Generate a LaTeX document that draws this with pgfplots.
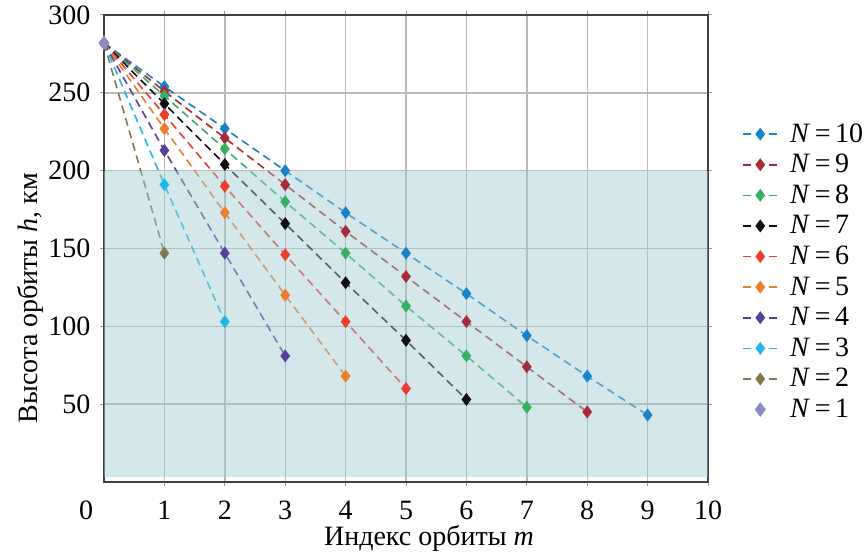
\documentclass[border=0pt]{standalone}
\usepackage{pgfplots}
\pgfplotsset{compat=1.18}
\usepackage{fontspec}
\setmainfont{LiberationSerif}[Extension=.ttf, UprightFont=*-Regular,
    ItalicFont=*-Italic, BoldFont=*-Bold, BoldItalicFont=*-BoldItalic]

\definecolor{cA}{RGB}{25,130,200}   % N=10
\definecolor{cB}{RGB}{165,45,55}    % N=9
\definecolor{cC}{RGB}{55,175,100}   % N=8
\definecolor{cD}{RGB}{15,15,25}     % N=7
\definecolor{cE}{RGB}{235,60,45}    % N=6
\definecolor{cF}{RGB}{235,125,45}   % N=5
\definecolor{cG}{RGB}{85,65,155}    % N=4
\definecolor{cH}{RGB}{30,185,230}   % N=3
\definecolor{cI}{RGB}{130,120,80}   % N=2
\definecolor{cJ}{RGB}{140,140,195}  % N=1
\definecolor{zone}{RGB}{159,202,208}

\begin{document}
\fontsize{14}{17}\selectfont
\begin{tikzpicture}
\begin{axis}[
    name=ax,
    scale only axis,
    width=302pt, height=233.5pt,
    xmin=0, xmax=10, ymin=0, ymax=300,
    xtick={1,...,10}, ytick={50,100,...,300},
    grid=major,
    grid style={line width=0.7pt, black!27},
    axis line style={line width=0.9pt, black!75},
    tick align=outside, major tick length=2pt,
    tick style={black!40, line width=0.5pt},
    /pgf/number format/assume math mode=true,
    ticklabel style={font=\fontsize{14}{17}\selectfont},
    xticklabel style={yshift=-2.5pt},
    xlabel={Индекс орбиты \textit{m}},
    ylabel={Высота орбиты \textit{h}, км},
    xlabel style={at={(axis description cs:0.538,-0.122)}, anchor=center},
    ylabel style={at={(axis description cs:-0.1225,0.394)}, anchor=center, rotate=0},
    legend style={at={(rel axis cs:1,0.45)}, anchor=west, xshift=14pt,
        draw=none, fill=none, row sep=3.3pt, column sep=5pt,
        font=\fontsize{14}{17}\selectfont,
        nodes={inner sep=1pt, text height=9pt, text depth=1pt}},
    legend cell align=left,
    every axis plot/.append style={
        dash pattern=on 4pt off 2.5pt, line width=0.8pt,
        mark=diamond*, mark size=2.6pt, mark options={solid}},
]
\addplot[cA] coordinates {(0,282) (1,254) (2,227) (3,200) (4,173) (5,147) (6,121) (7,94) (8,68) (9,43)};
\addlegendentry{\textit{N}\,=\,10}
\addplot[cB] coordinates {(0,282) (1,251) (2,221) (3,191) (4,161) (5,132) (6,103) (7,74) (8,45)};
\addlegendentry{\textit{N}\,=\,9}
\addplot[cC] coordinates {(0,282) (1,248) (2,214) (3,180) (4,147) (5,113) (6,81) (7,48)};
\addlegendentry{\textit{N}\,=\,8}
\addplot[cD] coordinates {(0,282) (1,243) (2,204) (3,166) (4,128) (5,91) (6,53)};
\addlegendentry{\textit{N}\,=\,7}
\addplot[cE] coordinates {(0,282) (1,236) (2,190) (3,146) (4,103) (5,60)};
\addlegendentry{\textit{N}\,=\,6}
\addplot[cF] coordinates {(0,282) (1,227) (2,173) (3,120) (4,68)};
\addlegendentry{\textit{N}\,=\,5}
\addplot[cG] coordinates {(0,282) (1,213) (2,147) (3,81)};
\addlegendentry{\textit{N}\,=\,4}
\addplot[cH] coordinates {(0,282) (1,191) (2,103)};
\addlegendentry{\textit{N}\,=\,3}
\addplot[cI] coordinates {(0,282) (1,147)};
\addlegendentry{\textit{N}\,=\,2}
\addplot[cJ, only marks, mark size=3pt] coordinates {(0,282)};
\addlegendentry{\textit{N}\,=\,1}

% shaded zone below 200 km (drawn over the curves, translucent)
\fill[zone, fill opacity=0.45] (axis cs:0,3) rectangle (axis cs:10,200);
\end{axis}
\node[anchor=north, xshift=-9pt, yshift=-4.5pt, inner sep=0.333em] at (ax.south west) {0};
\pgfresetboundingbox
\useasboundingbox ([xshift=-52pt,yshift=-35pt]ax.south west)
    rectangle ([xshift=79pt,yshift=7.5pt]ax.north east);
\end{tikzpicture}
\end{document}
